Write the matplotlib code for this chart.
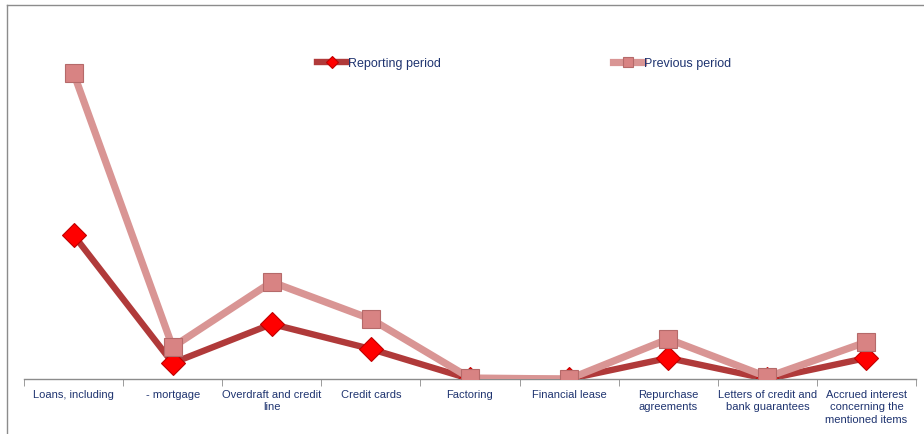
"""Loan portfolio by product type: reporting vs previous period."""
import matplotlib
matplotlib.use("Agg")
import matplotlib.pyplot as plt
from matplotlib.lines import Line2D
import numpy as np

categories = [
    "Loans, including",
    "- mortgage",
    "Overdraft and credit\nline",
    "Credit cards",
    "Factoring",
    "Financial lease",
    "Repurchase\nagreements",
    "Letters of credit and\nbank guarantees",
    "Accrued interest\nconcerning the\nmentioned items",
]
reporting = [144, 16, 55, 30, 0, 0, 21, 0, 21]
previous = [306, 32, 97, 60, 1, 0, 40, 2, 37]

plt.rcParams["font.family"] = ["Liberation Sans", "DejaVu Sans"]

fig = plt.figure(figsize=(9.24, 4.35), dpi=100)
ax = fig.add_axes([24 / 924, 55 / 435, 892 / 924, 340 / 435])

x = np.arange(len(categories))

# previous period first so the reporting line sits on top of it
ax.plot(x, previous, color="#D99594", linewidth=5.2, marker="s", markersize=13,
        markerfacecolor="#D88383", markeredgecolor="#B56A6A", markeredgewidth=0.8,
        solid_joinstyle="round", label="Previous period", zorder=3)
ax.plot(x, reporting, color="#B03A3A", linewidth=4.6, marker="D", markersize=12,
        markerfacecolor="#FF0000", markeredgecolor="#C00000", markeredgewidth=0.8,
        solid_joinstyle="round", label="Reporting period", zorder=2)

ax.set_xlim(-0.5, len(categories) - 0.5)
ax.set_ylim(0, 340)

for side in ["top", "right", "left"]:
    ax.spines[side].set_visible(False)
ax.spines["bottom"].set_color("#8C8C8C")
ax.spines["bottom"].set_linewidth(1.0)
ax.yaxis.set_visible(False)

ax.set_xticks(x)
ax.set_xticklabels(categories, fontsize=8, color="#1F3470", linespacing=1.3)
ax.tick_params(axis="x", which="major", length=0, pad=7)
ax.set_xticks(np.arange(len(categories) + 1) - 0.5, minor=True)
ax.tick_params(axis="x", which="minor", length=5, color="#8C8C8C", direction="out")

handles, labels = ax.get_legend_handles_labels()
ax.legend(handles[::-1], labels[::-1], loc="center", bbox_to_anchor=(524 / 924, 1 - 64 / 435),
          bbox_transform=fig.transFigure, ncol=2, frameon=False, fontsize=9,
          handlelength=2.4, handletextpad=0.05, columnspacing=13.8, markerscale=0.55,
          labelcolor="#1F3470")

# frame of the chart area (only left and top edges are visible)
fig.add_artist(Line2D([7 / 924, 7 / 924], [0, 1 - 6 / 435], transform=fig.transFigure,
                      color="#8C8C8C", linewidth=1.0))
fig.add_artist(Line2D([7 / 924, 1], [1 - 6 / 435, 1 - 6 / 435], transform=fig.transFigure,
                      color="#8C8C8C", linewidth=1.0))

fig.savefig("out.png", dpi=100)
